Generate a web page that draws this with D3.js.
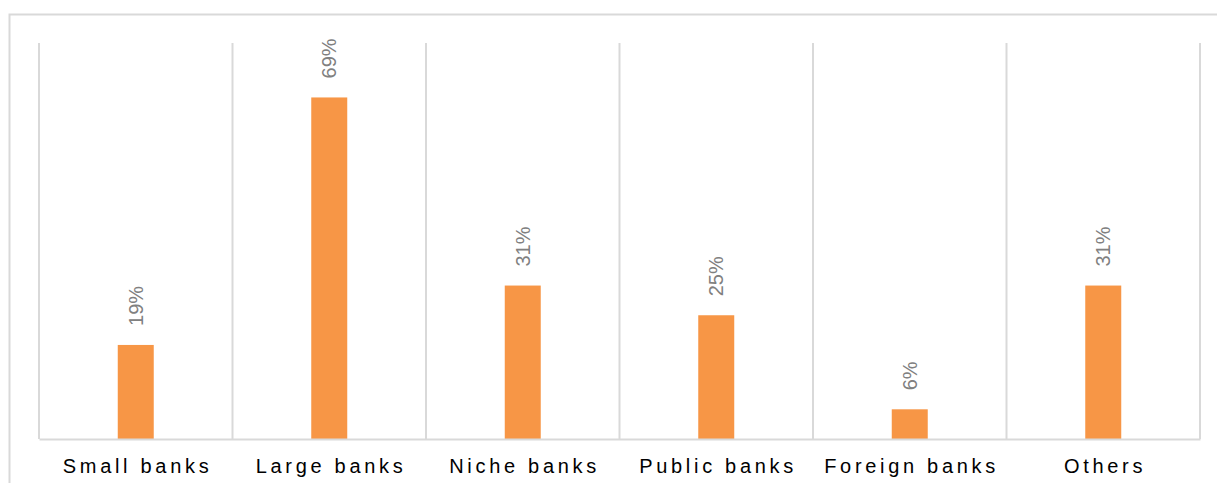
<!DOCTYPE html>
<html>
<head>
<meta charset="utf-8">
<script src="https://cdn.jsdelivr.net/npm/d3@7"></script>
<style>
  html, body { margin: 0; padding: 0; background: #fff; }
  svg { display: block; }
</style>
</head>
<body>
<svg id="chart" width="1217" height="483"></svg>
<script>
// Share of respondents by bank type
const categories = ["Small banks", "Large banks", "Niche banks", "Public banks", "Foreign banks", "Others"];
const shares = [19, 69, 31, 25, 6, 31];
const yDomain = [0, 80];

const W = 1217, H = 483;
const plot = { left: 39, right: 1200, top: 43, bottom: 439 };

const svg = d3.select("#chart");

// outer chart frame
svg.append("rect")
  .attr("x", 9.5).attr("y", 14.5)
  .attr("width", W + 10).attr("height", H + 10)
  .attr("fill", "none").attr("stroke", "#d9d9d9").attr("stroke-width", 2);

const x = d3.scaleBand()
  .domain(categories)
  .range([plot.left, plot.right])
  .paddingInner(0).paddingOuter(0);

const y = d3.scaleLinear().domain(yDomain).range([plot.bottom, plot.top]);

// vertical separators between categories
const edges = categories.map(c => x(c)).concat([x.range()[1]]);
svg.append("g").selectAll("line")
  .data(edges)
  .join("line")
  .attr("x1", d => d).attr("x2", d => d)
  .attr("y1", plot.top).attr("y2", plot.bottom)
  .attr("stroke", "#d9d9d9").attr("stroke-width", 2);

// bars
const barW = x.bandwidth() * 0.186;
svg.append("g").selectAll("rect")
  .data(categories)
  .join("rect")
  .attr("x", (c) => x(c) + x.bandwidth() / 2 - barW / 2)
  .attr("width", barW)
  .attr("y", (c, i) => y(shares[i]))
  .attr("height", (c, i) => y(0) - y(shares[i]))
  .attr("fill", "#f79646");

// baseline axis
const xAxis = svg.append("g")
  .attr("transform", `translate(0,${plot.bottom})`)
  .call(d3.axisBottom(x).tickSize(0).tickPadding(20));
xAxis.select(".domain").attr("stroke", "#d9d9d9").attr("stroke-width", 2);
xAxis.selectAll("text")
  .attr("font-family", "Liberation Sans, Arial, sans-serif")
  .attr("font-size", 20)
  .attr("letter-spacing", "3.7px")
  .attr("dx", "1.8px")
  .attr("fill", "#000");

// rotated value labels above bars
svg.append("g").selectAll("text")
  .data(categories)
  .join("text")
  .attr("transform", (c, i) => `translate(${x(c) + x.bandwidth() / 2 + 7},${y(shares[i]) - 19}) rotate(-90)`)
  .attr("font-family", "Liberation Sans, Arial, sans-serif")
  .attr("font-size", 20)
  .attr("fill", "#808080")
  .attr("text-anchor", "start")
  .text((c, i) => shares[i] + "%");
</script>
</body>
</html>
